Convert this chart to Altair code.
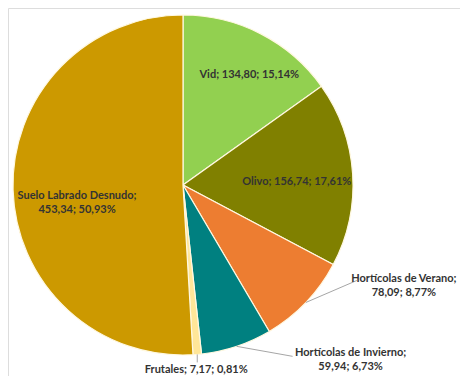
import altair as alt
import pandas as pd

categories = ["Vid", "Olivo", "Hortícolas de Verano", "Hortícolas de Invierno", "Frutales", "Suelo Labrado Desnudo"]
values = [134.80, 156.74, 78.09, 59.94, 7.17, 453.34]
percents = ["15,14%", "17,61%", "8,77%", "6,73%", "0,81%", "50,93%"]
value_labels = ["134,80", "156,74", "78,09", "59,94", "7,17", "453,34"]
colors = ["#92D050", "#808000", "#ED7D31", "#008080", "#FFE699", "#CC9900"]

# label line breaks (layout only)
two_line = {"Hortícolas de Verano", "Hortícolas de Invierno", "Suelo Labrado Desnudo"}
labels = []
for c, v, p in zip(categories, value_labels, percents):
    if c in two_line:
        labels.append(f"{c};\n{v}; {p}")
    else:
        labels.append(f"{c}; {v}; {p}")

df = pd.DataFrame({"cat": categories, "value": values, "label": labels, "idx": list(range(len(categories)))})

CX, CY, R = 175, 177, 170

# per-category label placement: radius, dx, dy (layout)
place = {
    "Vid": (125, 9, 1),
    "Olivo": (113, 1, 4),
    "Suelo Labrado Desnudo": (106, 0, 8),
    "Hortícolas de Verano": (170, 98, -23),
    "Hortícolas de Invierno": (170, 114, 7),
    "Frutales": (170, -1, 16),
}
leader = {
    "Hortícolas de Verano": (51, -22),
    "Hortícolas de Invierno": (56, 10),
    "Frutales": (0, 8),
}

def case_expr(d, i):
    parts = " : ".join([f"datum.cat === '{k}' ? {v[i]}" for k, v in d.items()]) + " : 0"
    return parts

color_scale = alt.Scale(domain=categories, range=colors)

base = alt.Chart(df).transform_joinaggregate(
    total="sum(value)"
).transform_window(
    cum="sum(value)", sort=[alt.SortField("idx", order="ascending")], frame=[None, 0]
).transform_calculate(
    mid="2*PI*(datum.cum - datum.value/2)/datum.total"
)

arcs = alt.Chart(df).mark_arc(outerRadius=R, stroke="#FFF8E0", strokeWidth=1.2).encode(
    theta=alt.Theta("value:Q", stack=True),
    order=alt.Order("idx:Q", sort="ascending"),
    color=alt.Color("cat:N", scale=color_scale, legend=None),
    x=alt.value(CX),
    y=alt.value(CY),
)

text = base.transform_calculate(
    lr=case_expr(place, 0),
    ldx=case_expr(place, 1),
    ldy=case_expr(place, 2),
).transform_calculate(
    px=f"{CX} + datum.lr*sin(datum.mid) + datum.ldx",
    py=f"{CY} - datum.lr*cos(datum.mid) + datum.ldy",
).mark_text(
    font="Lato", fontSize=11, fontWeight="bold", color="#333333",
    lineBreak="\n", baseline="middle", align="center", lineHeight=14,
).encode(
    x=alt.X("px:Q", scale=None, axis=None),
    y=alt.Y("py:Q", scale=None, axis=None),
    text="label:N",
)

lines = base.transform_filter(
    alt.FieldOneOfPredicate(field="cat", oneOf=list(leader.keys()))
).transform_calculate(
    ex=case_expr(leader, 0),
    ey=case_expr(leader, 1),
).transform_calculate(
    x1=f"{CX} + {R}*sin(datum.mid)",
    y1=f"{CY} - {R}*cos(datum.mid)",
).transform_calculate(
    x2="datum.x1 + datum.ex",
    y2="datum.y1 + datum.ey",
).mark_rule(color="#A6A6A6", strokeWidth=1).encode(
    x=alt.X("x1:Q", scale=None, axis=None),
    y=alt.Y("y1:Q", scale=None, axis=None),
    x2="x2:Q",
    y2="y2:Q",
)

chart = alt.layer(arcs, lines, text).properties(
    width=452, height=368, autosize=alt.AutoSizeParams(type="none"), padding=0
).configure_view(stroke="transparent", strokeWidth=0).configure(background="white")

chart.save("out.html", embed_options={"renderer": "svg", "actions": False})
